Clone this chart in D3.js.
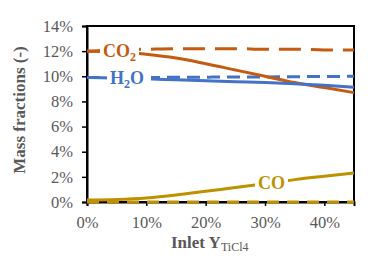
<!DOCTYPE html>
<html>
<head>
<meta charset="utf-8">
<script src="https://cdn.jsdelivr.net/npm/d3@7"></script>
<style>
  body { margin: 0; background: #fff; }
</style>
</head>
<body>
<script>
// inlet TiCl4 mass fraction (x) and outlet mass fractions, in %
const inletY = [0, 5, 10, 15, 20, 25, 30, 35, 40, 45];
const co2Solid = [12.0, 11.95, 11.75, 11.45, 11.0, 10.5, 10.0, 9.5, 9.1, 8.7];
const co2Dashed = [12.0, 12.1, 12.15, 12.2, 12.2, 12.2, 12.15, 12.15, 12.1, 12.1];
const h2oSolid = [9.9, 9.85, 9.8, 9.72, 9.65, 9.57, 9.5, 9.4, 9.28, 9.12];
const h2oDashed = [9.9, 9.9, 9.9, 9.92, 9.93, 9.95, 9.95, 9.97, 9.98, 10.0];
const coSolid = [0.15, 0.2, 0.32, 0.55, 0.85, 1.15, 1.45, 1.78, 2.05, 2.3];
const coDashed = [0, 0, 0, 0, 0, 0, 0, 0, 0, 0];
const yTicks = [0, 2, 4, 6, 8, 10, 12, 14];
const xTicks = [0, 10, 20, 30, 40];

const width = 386, height = 273;
const margin = {top: 26, right: 32, bottom: 71, left: 87};
const serif = 'Liberation Serif';
const gray = '#595959';
const orange = '#C55A11', blue = '#4472C4', gold = '#BF9000';

const svg = d3.select('body')
              .append('svg')
              .attr('width', width)
              .attr('height', height)
              .attr('font-family', serif);

const x = d3.scaleLinear().domain([0, 45]).range([margin.left, width - margin.right]);
const y = d3.scaleLinear().domain([0, 14]).range([height - margin.bottom, margin.top]);

// frame
svg.append('rect')
   .attr('x', x(0)).attr('y', y(14))
   .attr('width', x(45) - x(0)).attr('height', y(0) - y(14))
   .attr('fill', 'none').attr('stroke', '#000').attr('stroke-width', 2);

const yAxis = svg.append('g')
   .attr('transform', `translate(${x(0)},0)`)
   .call(d3.axisLeft(y).tickValues(yTicks).tickSize(5).tickPadding(9)
           .tickFormat(d => d + '%'));
const xAxis = svg.append('g')
   .attr('transform', `translate(0,${y(0)})`)
   .call(d3.axisBottom(x).tickValues(xTicks).tickSize(4).tickPadding(10)
           .tickFormat(d => d + '%'));

[yAxis, xAxis].forEach(a => {
  a.attr('font-family', serif).attr('font-size', 16.5);
  a.select('.domain').attr('stroke', '#000').attr('stroke-width', 2);
  a.selectAll('.tick line').attr('stroke', '#000').attr('stroke-width', 1.5);
  a.selectAll('.tick text')
   .attr('fill', gray)
   .attr('font-family', serif);
});

// axis titles
svg.append('text')
   .attr('transform', `translate(25,${(y(0) + y(14)) / 2 - 4}) rotate(-90)`)
   .attr('text-anchor', 'middle')
   .attr('fill', gray)
   .attr('font-family', serif)
   .attr('font-size', 17)
   .attr('font-weight', 'bold')
   .text('Mass fractions (-)');

const xt = svg.append('text')
   .attr('x', 171).attr('y', 248)
   .attr('fill', gray)
   .attr('font-family', serif)
   .attr('font-size', 17)
   .attr('font-weight', 'bold');
xt.append('tspan').text('Inlet Y');
xt.append('tspan').attr('dy', 3).attr('font-size', 12).attr('font-weight', 'normal').text('TiCl4');

// lines
const line = d3.line()
               .x((d, i) => x(inletY[i]))
               .y(d => y(d))
               .curve(d3.curveMonotoneX);

const series = [
  {values: co2Dashed, color: orange, dash: '22,10'},
  {values: h2oDashed, color: blue, dash: '13,7'},
  {values: coDashed, color: gold, dash: '12,8'},
  {values: co2Solid, color: orange, dash: null},
  {values: h2oSolid, color: blue, dash: null},
  {values: coSolid, color: gold, dash: null}
];

svg.selectAll('path.series')
   .data(series)
   .enter()
   .append('path')
   .attr('class', 'series')
   .attr('d', d => line(d.values))
   .attr('fill', 'none')
   .attr('stroke', d => d.color)
   .attr('stroke-width', 3)
   .attr('stroke-dasharray', d => d.dash);

// data labels with white boxes
function label(px, py, main, sub, tail, color, boxW) {
  svg.append('rect')
     .attr('x', px - 3).attr('y', py - 11)
     .attr('width', boxW).attr('height', 22)
     .attr('fill', '#fff');
  const t = svg.append('text')
     .attr('x', px).attr('y', py + 6)
     .attr('fill', color)
     .attr('font-family', serif)
     .attr('font-size', 18)
     .attr('font-weight', 'bold');
  t.append('tspan').text(main);
  if (sub) {
    t.append('tspan').attr('dy', 4).attr('font-size', 12).text(sub);
    if (tail) t.append('tspan').attr('dy', -4).text(tail);
  }
}

label(103, y(12.05), 'CO', '2', null, orange, 39);
label(110, y(9.9), 'H', '2', 'O', blue, 44);
label(258, 183, 'CO', null, null, gold, 33);
</script>
</body>
</html>
